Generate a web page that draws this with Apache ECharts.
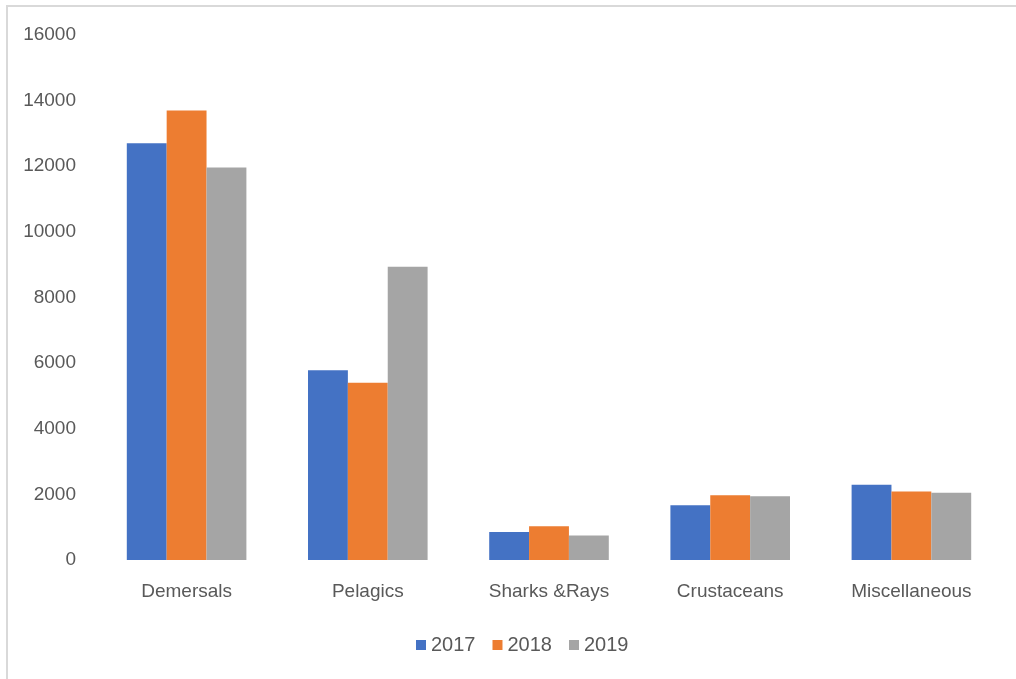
<!DOCTYPE html>
<html lang="en">
<head>
    <meta charset="UTF-8">
    <title>Catch by group</title>
    <style>
        html, body { margin: 0; padding: 0; background: #fff; }
        #main { width: 1016px; height: 679px; }
    </style>
</head>
<body>
    <div id="main"></div>
    <script src="https://cdn.jsdelivr.net/npm/echarts@6/dist/echarts.min.js"></script>
    <script>
        const categories = ['Demersals', 'Pelagics', 'Sharks &Rays', 'Crustaceans', 'Miscellaneous'];
        const years = ['2017', '2018', '2019'];
        const values2017 = [12700, 5780, 850, 1670, 2290];
        const values2018 = [13700, 5400, 1030, 1970, 2090];
        const values2019 = [11960, 8940, 750, 1940, 2050];
        const colors = ['#4472C4', '#ED7D31', '#A5A5A5'];

        const chart = echarts.init(document.getElementById('main'));
        const font = 'Liberation Sans, Arial, sans-serif';
        const seriesData = [values2017, values2018, values2019];

        const option = {
            animation: false,
            color: colors,
            graphic: [{
                type: 'rect',
                shape: { x: 7, y: 6, width: 1100, height: 800 },
                style: { fill: 'none', stroke: '#d9d9d9', lineWidth: 2 }
            }],
            legend: {
                data: years,
                top: 630,
                left: 411,
                itemWidth: 10,
                itemHeight: 10,
                itemGap: 17,
                icon: 'rect',
                textStyle: { color: '#595959', fontSize: 20, fontFamily: font }
            },
            grid: { left: 96, right: 14, top: 35, bottom: 119, containLabel: false },
            xAxis: {
                type: 'category',
                data: categories,
                axisLine: { show: false },
                axisTick: { show: false },
                axisLabel: { color: '#595959', fontSize: 19, fontFamily: font, margin: 22 }
            },
            yAxis: {
                type: 'value',
                min: 0,
                max: 16000,
                interval: 2000,
                splitLine: { show: false },
                axisLine: { show: false },
                axisTick: { show: false },
                axisLabel: {
                    color: '#595959', fontSize: 19, fontFamily: font, margin: 20,
                    formatter: v => String(v)
                }
            },
            series: years.map((y, i) => ({
                name: y,
                type: 'bar',
                data: seriesData[i],
                barGap: '0%',
                barCategoryGap: '34%'
            }))
        };
        chart.setOption(option);
    </script>
</body>
</html>
